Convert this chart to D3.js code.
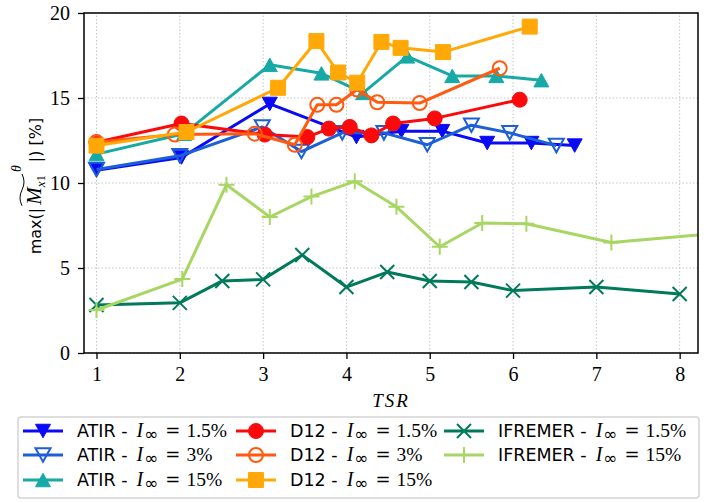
<!DOCTYPE html>
<html>
<head>
<meta charset="utf-8">
<script src="https://cdn.jsdelivr.net/npm/d3@7"></script>
<style>
  body { margin: 0; background: #fff; }
  .axis text { font-family: 'Liberation Serif', 'DejaVu Serif', serif; font-size: 20px; fill: #000; }
  .axis line { stroke: #000; stroke-width: 1.3; }
  .axis path { display: none; }
</style>
</head>
<body>
<div class="chart"></div>
<script>
const width = 716;
const height = 502;
const margin = { left: 84, right: 18, top: 13, bottom: 149 };

const SERIF = "'Liberation Serif', 'DejaVu Serif', serif";
const SANS = "'DejaVu Sans', sans-serif";

// x ticks / y ticks
const xTicks = [1, 2, 3, 4, 5, 6, 7, 8];
const yTicks = [0, 5, 10, 15, 20];

// series values: [TSR, value]
const atir15 = [[1, 10.75], [2.02, 11.5], [3.08, 14.65], [4.12, 12.7], [4.66, 13.05], [5.15, 13.05], [5.69, 12.35], [6.22, 12.35], [6.74, 12.2]];
const atir3 = [[1, 10.8], [2.0, 11.6], [2.99, 13.3], [3.46, 11.85], [3.95, 12.95], [4.45, 12.95], [4.97, 12.25], [5.5, 13.4], [5.96, 12.95], [6.52, 12.2]];
const atir150 = [[1, 11.7], [2.05, 12.9], [3.08, 16.95], [3.7, 16.45], [4.2, 15.3], [4.73, 17.45], [5.27, 16.3], [5.8, 16.3], [6.34, 16.05]];
const d12_15 = [[1, 12.4], [2.02, 13.5], [3.02, 12.85], [3.53, 12.7], [3.79, 13.2], [4.04, 13.3], [4.3, 12.8], [4.56, 13.5], [5.06, 13.8], [6.08, 14.9]];
const d12_3 = [[1, 12.4], [1.94, 12.85], [2.9, 12.9], [3.38, 12.25], [3.65, 14.6], [3.88, 14.6], [4.13, 15.5], [4.37, 14.75], [4.88, 14.7], [5.84, 16.75]];
const d12_150 = [[1, 12.2], [2.08, 13.0], [3.18, 15.6], [3.64, 18.35], [3.9, 16.5], [4.13, 15.9], [4.42, 18.3], [4.65, 17.95], [5.16, 17.7], [6.2, 19.2]];
const ifr15 = [[1, 2.82], [2.0, 2.95], [2.51, 4.24], [3.0, 4.33], [3.47, 5.76], [4.0, 3.88], [4.49, 4.76], [5.0, 4.24], [5.5, 4.18], [6.0, 3.67], [7.0, 3.88], [8.0, 3.47]];
const ifr150 = [[1, 2.53], [2.03, 4.35], [2.56, 9.9], [3.08, 8.0], [3.58, 9.2], [4.1, 10.1], [4.6, 8.6], [5.12, 6.25], [5.63, 7.65], [6.16, 7.6], [7.18, 6.5], [9.0, 7.27]];

const seriesNames = ["ATIR", "ATIR", "ATIR", "D12", "D12", "D12", "IFREMER", "IFREMER"];
const seriesIntensity = ["1.5%", "3%", "15%", "1.5%", "3%", "15%", "1.5%", "15%"];

const series = [
    { data: atir15, color: "#0a0af5", marker: "tdown", fill: true },
    { data: atir3, color: "#1c5fd8", marker: "tdown", fill: false },
    { data: atir150, color: "#17a9a6", marker: "tup", fill: true },
    { data: d12_15, color: "#fa0a0a", marker: "circle", fill: true },
    { data: d12_3, color: "#ff5a0f", marker: "circle", fill: false },
    { data: d12_150, color: "#ffa808", marker: "square", fill: true },
    { data: ifr15, color: "#017a5c", marker: "x", fill: false },
    { data: ifr150, color: "#a7d663", marker: "plus", fill: false }
];
series.forEach((s, i) => { s.label = seriesNames[i]; s.intensity = seriesIntensity[i]; });

const svg = d3.select(".chart").append("svg")
    .attr("width", width)
    .attr("height", height);

let xScale = d3.scaleLinear()
    .domain([0.85, 8.22])
    .range([margin.left, width - margin.right]);
let yScale = d3.scaleLinear()
    .domain([0, 20])
    .range([height - margin.bottom, margin.top]);

// grid
svg.append("g").selectAll("line").data(xTicks).enter().append("line")
    .attr("x1", d => xScale(d)).attr("x2", d => xScale(d))
    .attr("y1", yScale(0)).attr("y2", yScale(20))
    .attr("stroke", "#c4c4c4").attr("stroke-width", 1).attr("stroke-dasharray", "1.5,2");
svg.append("g").selectAll("line").data(yTicks).enter().append("line")
    .attr("x1", xScale.range()[0]).attr("x2", xScale.range()[1])
    .attr("y1", d => yScale(d)).attr("y2", d => yScale(d))
    .attr("stroke", "#c4c4c4").attr("stroke-width", 1).attr("stroke-dasharray", "1.5,2");

// axes
svg.append("g")
    .attr("class", "axis")
    .attr("transform", "translate(0," + yScale(0) + ")")
    .call(d3.axisBottom(xScale).tickValues(xTicks).tickSize(6).tickPadding(8).tickFormat(d3.format("d")));
svg.append("g")
    .attr("class", "axis")
    .attr("transform", "translate(" + xScale.range()[0] + ",0)")
    .call(d3.axisLeft(yScale).tickValues(yTicks).tickSize(6).tickPadding(8).tickFormat(d3.format("d")));

// clip
svg.append("clipPath").attr("id", "plotclip").append("rect")
    .attr("x", xScale.range()[0]).attr("y", yScale(20))
    .attr("width", xScale.range()[1] - xScale.range()[0])
    .attr("height", yScale(0) - yScale(20));

const markerPath = (type) => {
    const r = 7.5;
    if (type === "tdown") return `M${-r},${-r * 0.9}L${r},${-r * 0.9}L0,${r * 0.9}Z`;
    if (type === "tup") return `M${-r},${r * 0.9}L${r},${r * 0.9}L0,${-r * 0.9}Z`;
    if (type === "square") return `M${-r},${-r}H${r}V${r}H${-r}Z`;
    if (type === "x") return `M-7,-7L7,7M-7,7L7,-7`;
    if (type === "plus") return `M-8,0H8M0,-8V8`;
    return null;
};

const drawMarker = (g, s, px, py) => {
    if (s.marker === "circle") {
        g.append("circle").attr("cx", px).attr("cy", py).attr("r", s.fill ? 7.5 : 7)
            .attr("fill", s.fill ? s.color : "none")
            .attr("stroke", s.color).attr("stroke-width", s.fill ? 1 : 2);
    } else {
        let lineType = s.marker === "x" || s.marker === "plus";
        g.append("path").attr("d", markerPath(s.marker))
            .attr("transform", "translate(" + px + "," + py + ")")
            .attr("fill", s.fill ? s.color : "none")
            .attr("stroke", s.color)
            .attr("stroke-width", lineType ? 2 : (s.fill ? 1 : 2))
            .attr("stroke-linejoin", "miter");
    }
};

const line = d3.line().x(d => xScale(d[0])).y(d => yScale(d[1]));
const plot = svg.append("g").attr("clip-path", "url(#plotclip)");

series.forEach(s => {
    plot.append("path")
        .datum(s.data)
        .attr("d", line)
        .attr("fill", "none")
        .attr("stroke", s.color)
        .attr("stroke-width", 3)
        .attr("stroke-linejoin", "round");
    s.data.forEach(d => drawMarker(plot, s, xScale(d[0]), yScale(d[1])));
});

// frame
svg.append("rect")
    .attr("x", xScale.range()[0]).attr("y", yScale(20))
    .attr("width", xScale.range()[1] - xScale.range()[0])
    .attr("height", yScale(0) - yScale(20))
    .attr("fill", "none").attr("stroke", "#000").attr("stroke-width", 1.5);

// x label
svg.append("text")
    .attr("x", (xScale.range()[0] + xScale.range()[1]) / 2)
    .attr("y", 407)
    .attr("text-anchor", "middle")
    .style("font-family", SERIF)
    .attr("font-style", "italic")
    .attr("font-size", 19)
    .attr("letter-spacing", 2)
    .text("TSR");

// y label: max(|M~x1^theta|) [%]
const yl = svg.append("g").attr("transform", "translate(41,186) rotate(-90)");
const pieces = [
    { t: "max(|", fam: SANS, size: 16, dy: 0 },
    { t: "M", fam: SERIF, size: 21, dy: 0, style: "italic", tilde: "start", pad: 3 },
    { t: "x", fam: SERIF, size: 13, dy: 4, style: "italic" },
    { t: "1", fam: SERIF, size: 13, dy: 4, tilde: "end" },
    { t: "θ", fam: SERIF, size: 14, dy: -20, style: "italic", pad: 3 },
    { t: "|) [%]", fam: SANS, size: 16, dy: 0, pad: 3 }
];
let cursor = 0, tildeStart = 0, tildeEnd = 0;
const placed = [];
pieces.forEach(p => {
    cursor += p.pad || 0;
    let t = yl.append("text")
        .attr("y", p.dy)
        .style("font-family", p.fam)
        .attr("font-size", p.size)
        .attr("font-style", p.style || "normal")
        .text(p.t);
    let w = t.node().getComputedTextLength();
    if (p.tilde === "start") tildeStart = cursor;
    t.attr("x", cursor);
    cursor += w;
    if (p.tilde === "end") tildeEnd = cursor;
    placed.push(t);
});
placed.forEach(t => t.attr("x", +t.attr("x") - cursor / 2));
const tw = tildeEnd - tildeStart + 2;
const tx0 = tildeStart - cursor / 2 - 1;
yl.append("path")
    .attr("d", `M${tx0},-19 q${tw / 4},-4 ${tw / 2},0 t${tw / 2},0`)
    .attr("fill", "none").attr("stroke", "#000").attr("stroke-width", 1);

// legend
const legend = svg.append("g");
legend.append("rect")
    .attr("x", 18).attr("y", 417).attr("width", 681).attr("height", 81)
    .attr("rx", 3).attr("fill", "#fff").attr("stroke", "#d4d4d4").attr("stroke-width", 1.5);

const colX = [23, 236, 444];
const rowY = [431, 455, 480];
series.forEach((s, i) => {
    let col = Math.floor(i / 3), row = i % 3;
    let x0 = colX[col], yy = rowY[row];
    let g = legend.append("g");
    g.append("line").attr("x1", x0).attr("x2", x0 + 40).attr("y1", yy).attr("y2", yy)
        .attr("stroke", s.color).attr("stroke-width", 3);
    drawMarker(g, s, x0 + 20, yy);
    let t = g.append("text").attr("x", x0 + 54).attr("y", yy + 6);
    t.append("tspan").style("font-family", SANS).attr("font-size", 17.5).text(s.label + " -");
    t.append("tspan").style("font-family", SERIF).attr("font-style", "italic").attr("font-size", 20).attr("dx", 9).text("I");
    t.append("tspan").style("font-family", SANS).attr("font-size", 17).attr("dx", 1).attr("dy", 3).text("∞");
    t.append("tspan").style("font-family", "'DejaVu Serif', serif").attr("font-size", 18).attr("dx", 7).attr("dy", -3).text("=");
    t.append("tspan").style("font-family", SERIF).attr("font-size", 19.5).attr("dx", 6).text(s.intensity);
});
</script>
</body>
</html>
